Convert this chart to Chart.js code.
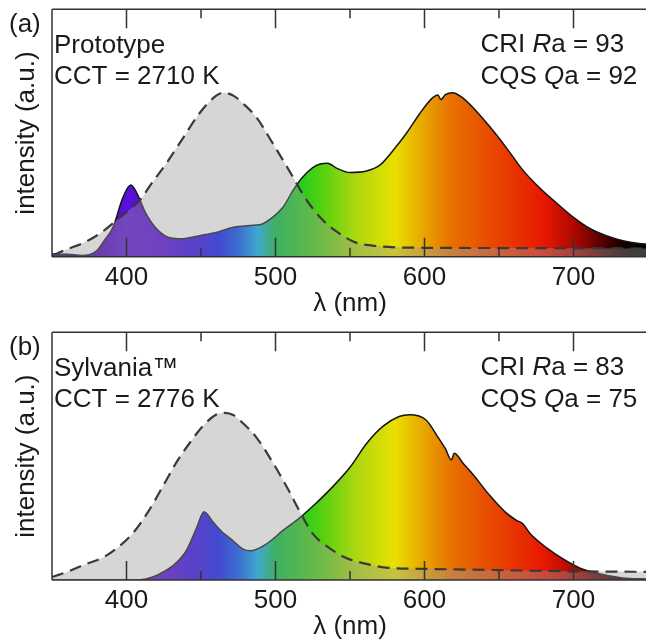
<!DOCTYPE html>
<html>
<head>
<meta charset="utf-8">
<script src="https://cdn.jsdelivr.net/npm/chart.js@4.4.0/dist/chart.umd.min.js"></script>
<style>
  body { margin: 0; background: #fff; }
  #wrap { position: relative; width: 646px; height: 641px; overflow: hidden; }
  canvas { display: block; }
</style>
</head>
<body>
<div id="wrap">
  <canvas id="chartA" width="648" height="323"></canvas>
  <canvas id="chartB" width="648" height="318"></canvas>
</div>
<script>
// (a) prototype lamp spectrum
const wlA = [350, 360, 370, 380, 385, 391, 397, 401, 403, 407, 413, 420, 429, 438, 449, 460, 471, 483, 490, 498,
  505, 512, 518, 525, 530, 535, 541, 550, 561, 570, 579, 588, 597, 605, 609, 611, 614, 619, 625, 632,
  644, 655, 666, 677, 689, 700, 711, 722, 733, 744, 750];
const specA = [1, 1, 0.5, 2.4, 6.5, 12, 23, 28, 29, 25.6, 17.5, 11.4, 7.7, 7.3, 8.5, 9.8, 11.8, 12.6, 13, 15.9,
  20, 27, 32, 36, 37.5, 37.8, 35.8, 34, 34.6, 37, 43, 50, 58, 64, 65.4, 63.5, 65.5, 66.3, 64.5, 60.6,
  52.4, 44, 35, 28, 21.5, 15.9, 11.4, 8.5, 6.5, 5.3, 5];
// (a) dashed reference
const wlRefA = [350, 353, 360, 370, 382, 393, 404, 410, 415, 427, 438, 449, 460, 465, 472, 478, 487, 498, 509, 521,
  532, 543, 554, 565, 580, 600, 650, 700, 750];
const refA = [0.8, 1.2, 3, 5.3, 9.3, 14.6, 20, 23.5, 28, 38, 48, 58, 65, 66.3, 65, 62, 56.5, 46, 35, 22.8,
  14.6, 9.3, 5.7, 4.5, 3.8, 3.6, 3.5, 3.4, 3.3];

// (b) Sylvania lamp spectrum
const wlB = [350, 380, 405, 413, 422, 431, 440, 447, 452, 458, 464, 470, 478, 483, 494, 505, 516, 527, 538, 550,
  561, 572, 583, 590, 601, 609, 614, 618, 620, 626, 632, 644, 655, 662, 666, 671, 682, 693, 704, 715, 733, 750];
const specB = [0, 0, 0, 0.4, 2.4, 5.7, 11.8, 21, 27.6, 23.5, 19.5, 16.6, 12.6, 11.8, 14.6, 20, 25, 30.9, 37.4, 45.5,
  55, 62, 66, 66.7, 64.6, 57.7, 53, 48.5, 51.2, 47, 43, 34, 27, 24, 22.7, 18.7, 13, 8.5, 4.9, 2.8, 0.8, 0.4];
// (b) dashed reference
const wlRefB = [350, 352, 362, 373, 384, 393, 404, 415, 424, 433, 442, 451, 460, 466, 472, 478, 487, 498, 509, 516,
  525, 536, 547, 561, 576, 599, 650, 700, 750];
const refB = [1.2, 1.6, 3.7, 6.5, 9, 12.6, 18.7, 28, 37.4, 47, 55, 62, 66.7, 67.5, 66.5, 63.4, 57.7, 47.6, 36, 28,
  18.7, 13, 9, 6.5, 4.9, 4.5, 4, 3.5, 3.3];

const xTicks = [400, 500, 600, 700];
const xMinor = [450, 550, 650];
const panelTags = ['(a)', '(b)'];
const lampNames = ['Prototype', 'Sylvania™'];
const cctValues = [2710, 2776];
const criValues = [93, 83];
const cqsValues = [92, 75];

// wavelength -> colour of the spectrum fill
const stopNm = [350, 380, 400, 425, 445, 462, 475, 488, 500, 515, 530, 555, 580, 596, 618, 643, 680, 700, 720, 735, 750];
const stopColor = ['#30007a', '#4a00b8', '#5a10d8', '#5508da', '#3008e8', '#0818f8', '#0050f4', '#05b2f5', '#05c040',
  '#20cc20', '#50d010', '#b0d810', '#e8e000', '#e8b000', '#e87000', '#e84c00', '#e81800', '#b00800', '#500000',
  '#100000', '#000000'];

const FONT = '"Liberation Sans", Arial, Helvetica, sans-serif';
Chart.defaults.font.family = FONT;
Chart.defaults.color = '#1a1a1a';

function spectrumFill(context) {
  const chart = context.chart;
  const x = chart.scales.x;
  if (!chart.chartArea || !x) return 'rgba(0,0,0,0)';
  const g = chart.ctx.createLinearGradient(x.getPixelForValue(350), 0, x.getPixelForValue(750), 0);
  stopNm.forEach((nm, i) => g.addColorStop((nm - 350) / 400, stopColor[i]));
  return g;
}

// frame with inward ticks, plus the text labels inside each panel
const panelDecor = {
  id: 'panelDecor',
  afterDatasetsDraw(chart) {
    const { ctx, chartArea: a, scales: { x } } = chart;
    ctx.save();
    ctx.strokeStyle = '#333';
    ctx.lineWidth = 1.5;
    ctx.beginPath();
    ctx.moveTo(a.left, a.top); ctx.lineTo(a.right, a.top);
    ctx.moveTo(a.left, a.top); ctx.lineTo(a.left, a.bottom);
    ctx.moveTo(a.left, a.bottom); ctx.lineTo(a.right, a.bottom);
    const mark = (v, len) => {
      const px = x.getPixelForValue(v);
      ctx.moveTo(px, a.bottom); ctx.lineTo(px, a.bottom - len);
      ctx.moveTo(px, a.top); ctx.lineTo(px, a.top + len);
    };
    xTicks.forEach(v => mark(v, 19));
    xMinor.forEach(v => mark(v, 9));
    ctx.stroke();
    ctx.restore();
  },
  afterDraw(chart, args, opts) {
    const i = opts.index;
    const { ctx, chartArea: a } = chart;
    ctx.save();
    ctx.fillStyle = '#1a1a1a';
    ctx.textBaseline = 'alphabetic';
    ctx.textAlign = 'left';
    ctx.font = '26px ' + FONT;
    ctx.fillText(panelTags[i], 9, a.top + 22.5);
    ctx.fillText(lampNames[i], a.left + 2, a.top + 43.5);
    ctx.fillText('CCT = ' + cctValues[i] + ' K', a.left + 2, a.top + 75);
    const line = (parts, y) => {
      let px = a.left + 428.5;
      parts.forEach(([t, it]) => {
        ctx.font = (it ? 'italic ' : '') + '26px ' + FONT;
        ctx.fillText(t, px, y);
        px += ctx.measureText(t).width;
      });
    };
    line([['CRI ', false], ['R', true], ['a = ' + criValues[i], false]], a.top + 42.5);
    line([['CQS ', false], ['Q', true], ['a = ' + cqsValues[i], false]], a.top + 74.5);
    ctx.restore();
  }
};

function makeChart(id, i, wl, spec, wlRef, ref, bottomPad) {
  return new Chart(document.getElementById(id), {
    type: 'line',
    data: {
      datasets: [
        {
          data: wl.map((v, k) => ({ x: v, y: spec[k] })),
          borderColor: '#141414',
          borderWidth: 1.5,
          backgroundColor: spectrumFill,
          fill: 'origin',
          pointRadius: 0,
          cubicInterpolationMode: 'monotone',
          order: 2,
        },
        {
          data: wlRef.map((v, k) => ({ x: v, y: ref[k] })),
          borderColor: '#3a3a3a',
          borderWidth: 2.2,
          borderDash: [12, 7],
          backgroundColor: 'rgba(152,152,152,0.4)',
          fill: 'origin',
          pointRadius: 0,
          cubicInterpolationMode: 'monotone',
          order: 1,
        },
      ],
    },
    options: {
      responsive: false,
      animation: false,
      events: [],
      layout: { padding: { left: 0, right: 0, top: 9.3, bottom: bottomPad } },
      plugins: {
        legend: { display: false },
        tooltip: { enabled: false },
        panelDecor: { index: i },
      },
      scales: {
        x: {
          type: 'linear',
          min: 350,
          max: 750,
          afterBuildTicks: (s) => { s.ticks = xTicks.map(v => ({ value: v })); },
          ticks: { font: { size: 26, lineHeight: 1 }, padding: 8, color: '#1a1a1a' },
          grid: { display: false, drawTicks: false, tickLength: 0 },
          border: { display: false },
          title: { display: true, text: 'λ (nm)', font: { size: 26, lineHeight: 1 }, padding: { top: -8, bottom: 0 }, color: '#1a1a1a' },
        },
        y: {
          min: 0,
          max: 100,
          ticks: { display: false },
          grid: { display: false, drawTicks: false, tickLength: 0 },
          border: { display: false },
          title: { display: true, text: 'intensity (a.u.)', font: { size: 26, lineHeight: 1 }, padding: { top: 14.2, bottom: 11.8 }, color: '#1a1a1a' },
        },
      },
    },
    plugins: [panelDecor],
  });
}

makeChart('chartA', 0, wlA, specA, wlRefA, refA, 6.3);
makeChart('chartB', 1, wlB, specB, wlRefB, refB, 1);
</script>
</body>
</html>
